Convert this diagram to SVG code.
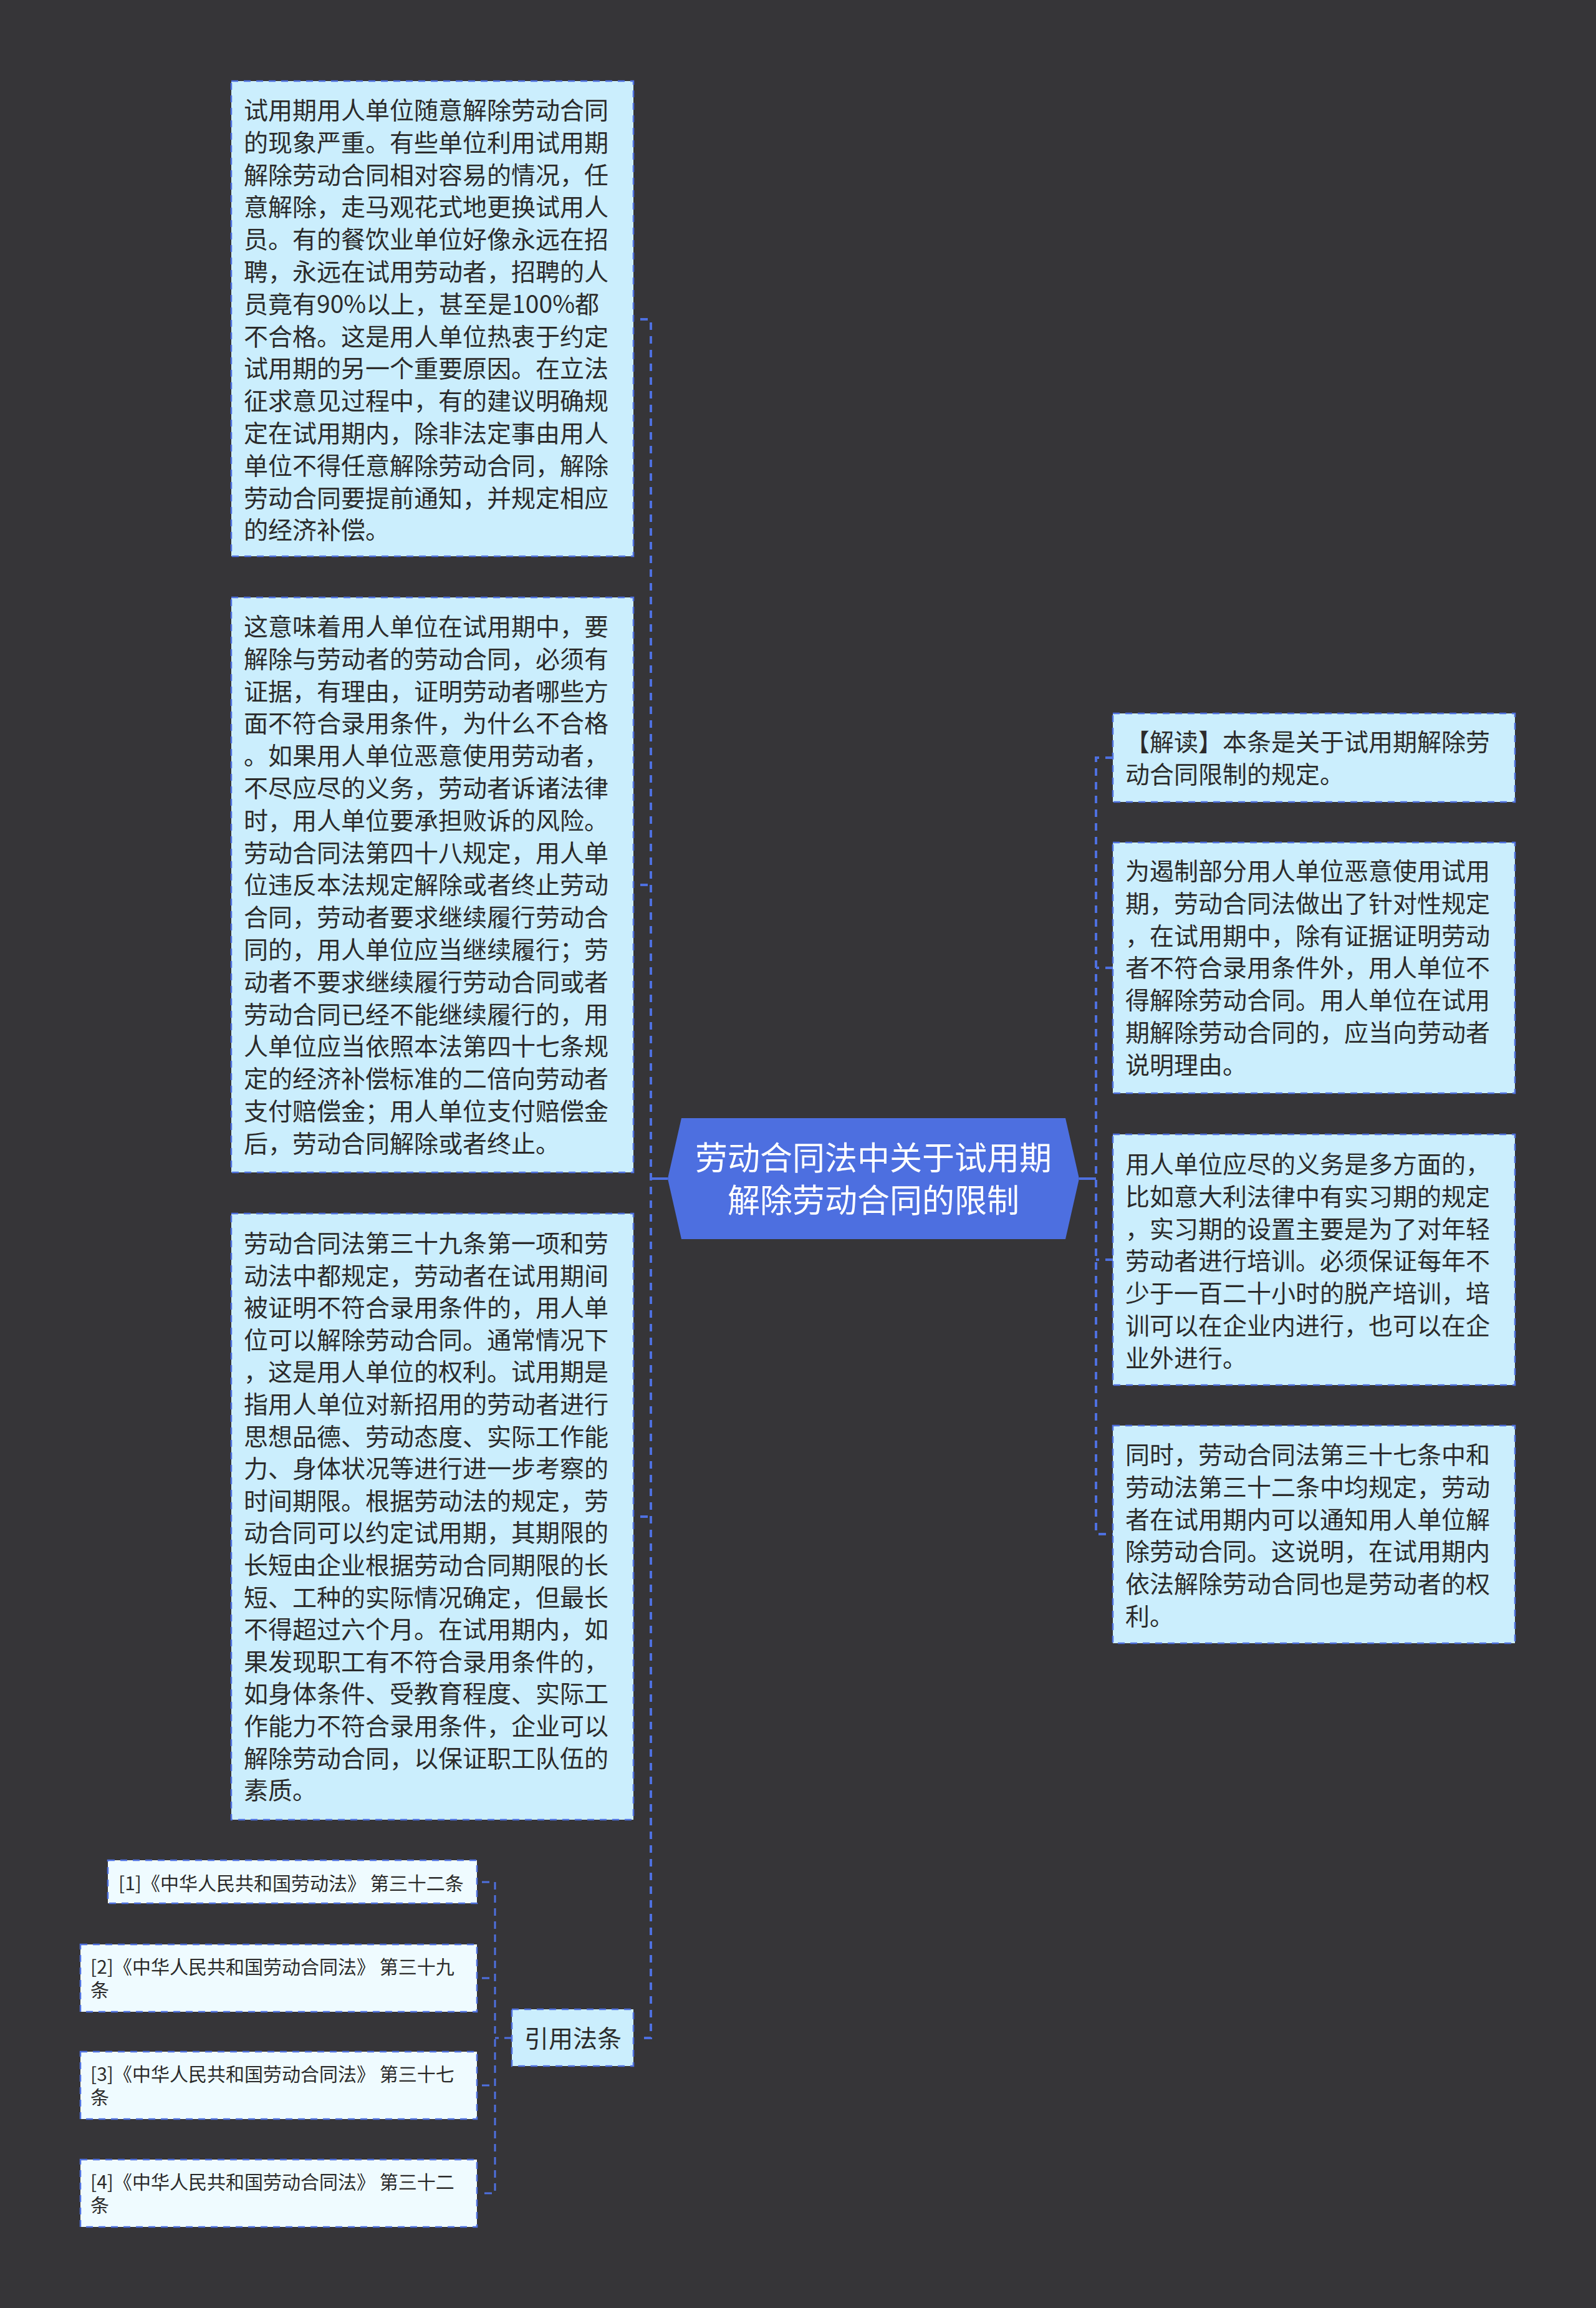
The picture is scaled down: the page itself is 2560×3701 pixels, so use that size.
<svg xmlns="http://www.w3.org/2000/svg" width="2560" height="3701" viewBox="0 0 2560 3701">
<style>
.box{fill:#cbeefd;stroke:#4e70e0;stroke-width:2.5;stroke-dasharray:11 9}
.leaf{fill:#effbff;stroke:#4e70e0;stroke-width:2.5;stroke-dasharray:11 9}
.t{font-family:"Noto Sans CJK SC","Noto Sans",sans-serif;font-size:39px;fill:#2b2b2b}
.lt{font-family:"Noto Sans CJK SC","Noto Sans",sans-serif;font-size:30px;fill:#2b2b2b}
.rt{font-family:"Noto Sans CJK SC","Noto Sans",sans-serif;font-size:52px;fill:#ffffff;text-anchor:middle}
.c{fill:none;stroke:#4e70e0;stroke-width:4;stroke-dasharray:12 10}
.cs{fill:none;stroke:#4e70e0;stroke-width:4}
.cl{fill:none;stroke:#4e70e0;stroke-width:3;stroke-dasharray:12 9}
</style>
<rect x="0" y="0" width="2560" height="3701" fill="#363538"/>
<g id="connectors">
<path class="cs" d="M1071,1890 H1044"/>
<path class="c" d="M1027,512 H1044 V3268 H1027"/>
<path class="c" d="M1027,1419 H1044"/>
<path class="c" d="M1027,2432 H1044"/>
<path class="cs" d="M1731,1890 H1758"/>
<path class="c" d="M1785,1215 H1758 V2460 H1785"/>
<path class="c" d="M1785,1552 H1758"/>
<path class="c" d="M1785,2020 H1758"/>
<path class="cl" d="M821,3268 H794"/>
<path class="cl" d="M773,3018 H794 V3517 H773"/>
<path class="cl" d="M773,3172 H794"/>
<path class="cl" d="M773,3344 H794"/>
</g>
<g id="root">
<polygon points="1093,1793 1709,1793 1731,1890 1709,1987 1093,1987 1071,1890" fill="#4d6fe0"/>
<text class="rt"><tspan x="1401" y="1876">劳动合同法中关于试用期</tspan><tspan x="1401" y="1944">解除劳动合同的限制</tspan></text>
</g>
<g id="node-l1">
<rect class="box" x="371" y="130" width="645" height="762"/>
<text class="t" x="391" y="191"><tspan x="391" dy="0">试用期用人单位随意解除劳动合同</tspan><tspan x="391" dy="51.8">的现象严重。有些单位利用试用期</tspan><tspan x="391" dy="51.8">解除劳动合同相对容易的情况，任</tspan><tspan x="391" dy="51.8">意解除，走马观花式地更换试用人</tspan><tspan x="391" dy="51.8">员。有的餐饮业单位好像永远在招</tspan><tspan x="391" dy="51.8">聘，永远在试用劳动者，招聘的人</tspan><tspan x="391" dy="51.8">员竟有90%以上，甚至是100%都</tspan><tspan x="391" dy="51.8">不合格。这是用人单位热衷于约定</tspan><tspan x="391" dy="51.8">试用期的另一个重要原因。在立法</tspan><tspan x="391" dy="51.8">征求意见过程中，有的建议明确规</tspan><tspan x="391" dy="51.8">定在试用期内，除非法定事由用人</tspan><tspan x="391" dy="51.8">单位不得任意解除劳动合同，解除</tspan><tspan x="391" dy="51.8">劳动合同要提前通知，并规定相应</tspan><tspan x="391" dy="51.8">的经济补偿。</tspan></text>
</g>
<g id="node-l2">
<rect class="box" x="371" y="958" width="645" height="922"/>
<text class="t" x="391" y="1019"><tspan x="391" dy="0">这意味着用人单位在试用期中，要</tspan><tspan x="391" dy="51.8">解除与劳动者的劳动合同，必须有</tspan><tspan x="391" dy="51.8">证据，有理由，证明劳动者哪些方</tspan><tspan x="391" dy="51.8">面不符合录用条件，为什么不合格</tspan><tspan x="391" dy="51.8">。如果用人单位恶意使用劳动者，</tspan><tspan x="391" dy="51.8">不尽应尽的义务，劳动者诉诸法律</tspan><tspan x="391" dy="51.8">时，用人单位要承担败诉的风险。</tspan><tspan x="391" dy="51.8">劳动合同法第四十八规定，用人单</tspan><tspan x="391" dy="51.8">位违反本法规定解除或者终止劳动</tspan><tspan x="391" dy="51.8">合同，劳动者要求继续履行劳动合</tspan><tspan x="391" dy="51.8">同的，用人单位应当继续履行；劳</tspan><tspan x="391" dy="51.8">动者不要求继续履行劳动合同或者</tspan><tspan x="391" dy="51.8">劳动合同已经不能继续履行的，用</tspan><tspan x="391" dy="51.8">人单位应当依照本法第四十七条规</tspan><tspan x="391" dy="51.8">定的经济补偿标准的二倍向劳动者</tspan><tspan x="391" dy="51.8">支付赔偿金；用人单位支付赔偿金</tspan><tspan x="391" dy="51.8">后，劳动合同解除或者终止。</tspan></text>
</g>
<g id="node-l3">
<rect class="box" x="371" y="1946" width="645" height="972"/>
<text class="t" x="391" y="2008"><tspan x="391" dy="0">劳动合同法第三十九条第一项和劳</tspan><tspan x="391" dy="51.6">动法中都规定，劳动者在试用期间</tspan><tspan x="391" dy="51.6">被证明不符合录用条件的，用人单</tspan><tspan x="391" dy="51.6">位可以解除劳动合同。通常情况下</tspan><tspan x="391" dy="51.6">，这是用人单位的权利。试用期是</tspan><tspan x="391" dy="51.6">指用人单位对新招用的劳动者进行</tspan><tspan x="391" dy="51.6">思想品德、劳动态度、实际工作能</tspan><tspan x="391" dy="51.6">力、身体状况等进行进一步考察的</tspan><tspan x="391" dy="51.6">时间期限。根据劳动法的规定，劳</tspan><tspan x="391" dy="51.6">动合同可以约定试用期，其期限的</tspan><tspan x="391" dy="51.6">长短由企业根据劳动合同期限的长</tspan><tspan x="391" dy="51.6">短、工种的实际情况确定，但最长</tspan><tspan x="391" dy="51.6">不得超过六个月。在试用期内，如</tspan><tspan x="391" dy="51.6">果发现职工有不符合录用条件的，</tspan><tspan x="391" dy="51.6">如身体条件、受教育程度、实际工</tspan><tspan x="391" dy="51.6">作能力不符合录用条件，企业可以</tspan><tspan x="391" dy="51.6">解除劳动合同，以保证职工队伍的</tspan><tspan x="391" dy="51.6">素质。</tspan></text>
</g>
<g id="node-cite">
<rect class="box" x="821" y="3222" width="195" height="91"/>
<text class="t" x="919" y="3283" text-anchor="middle">引用法条</text>
</g>
<g id="node-leaf1">
<rect class="leaf" x="173" y="2983" width="592" height="69"/>
<text class="lt" x="190" y="3031">[1]《中华人民共和国劳动法》 第三十二条</text>
</g>
<g id="node-leaf2">
<rect class="leaf" x="129" y="3118" width="636" height="108"/>
<text class="lt"><tspan x="145" y="3165">[2]《中华人民共和国劳动合同法》 第三十九</tspan><tspan x="145" y="3202">条</tspan></text>
</g>
<g id="node-leaf3">
<rect class="leaf" x="129" y="3290" width="636" height="108"/>
<text class="lt"><tspan x="145" y="3337">[3]《中华人民共和国劳动合同法》 第三十七</tspan><tspan x="145" y="3374">条</tspan></text>
</g>
<g id="node-leaf4">
<rect class="leaf" x="129" y="3463" width="636" height="108"/>
<text class="lt"><tspan x="145" y="3510">[4]《中华人民共和国劳动合同法》 第三十二</tspan><tspan x="145" y="3547">条</tspan></text>
</g>
<g id="node-r1">
<rect class="box" x="1785" y="1144" width="645" height="142"/>
<text class="t"><tspan x="1805" y="1204">【解读】本条是关于试用期解除劳</tspan><tspan x="1805" y="1256">动合同限制的规定。</tspan></text>
</g>
<g id="node-r2">
<rect class="box" x="1785" y="1351" width="645" height="402"/>
<text class="t" y="1411"><tspan x="1805" dy="0">为遏制部分用人单位恶意使用试用</tspan><tspan x="1805" dy="51.8">期，劳动合同法做出了针对性规定</tspan><tspan x="1805" dy="51.8">，在试用期中，除有证据证明劳动</tspan><tspan x="1805" dy="51.8">者不符合录用条件外，用人单位不</tspan><tspan x="1805" dy="51.8">得解除劳动合同。用人单位在试用</tspan><tspan x="1805" dy="51.8">期解除劳动合同的，应当向劳动者</tspan><tspan x="1805" dy="51.8">说明理由。</tspan></text>
</g>
<g id="node-r3">
<rect class="box" x="1785" y="1819" width="645" height="402"/>
<text class="t" y="1881"><tspan x="1805" dy="0">用人单位应尽的义务是多方面的，</tspan><tspan x="1805" dy="51.8">比如意大利法律中有实习期的规定</tspan><tspan x="1805" dy="51.8">，实习期的设置主要是为了对年轻</tspan><tspan x="1805" dy="51.8">劳动者进行培训。必须保证每年不</tspan><tspan x="1805" dy="51.8">少于一百二十小时的脱产培训，培</tspan><tspan x="1805" dy="51.8">训可以在企业内进行，也可以在企</tspan><tspan x="1805" dy="51.8">业外进行。</tspan></text>
</g>
<g id="node-r4">
<rect class="box" x="1785" y="2286" width="645" height="349"/>
<text class="t" y="2347"><tspan x="1805" dy="0">同时，劳动合同法第三十七条中和</tspan><tspan x="1805" dy="51.8">劳动法第三十二条中均规定，劳动</tspan><tspan x="1805" dy="51.8">者在试用期内可以通知用人单位解</tspan><tspan x="1805" dy="51.8">除劳动合同。这说明，在试用期内</tspan><tspan x="1805" dy="51.8">依法解除劳动合同也是劳动者的权</tspan><tspan x="1805" dy="51.8">利。</tspan></text>
</g>
</svg>
